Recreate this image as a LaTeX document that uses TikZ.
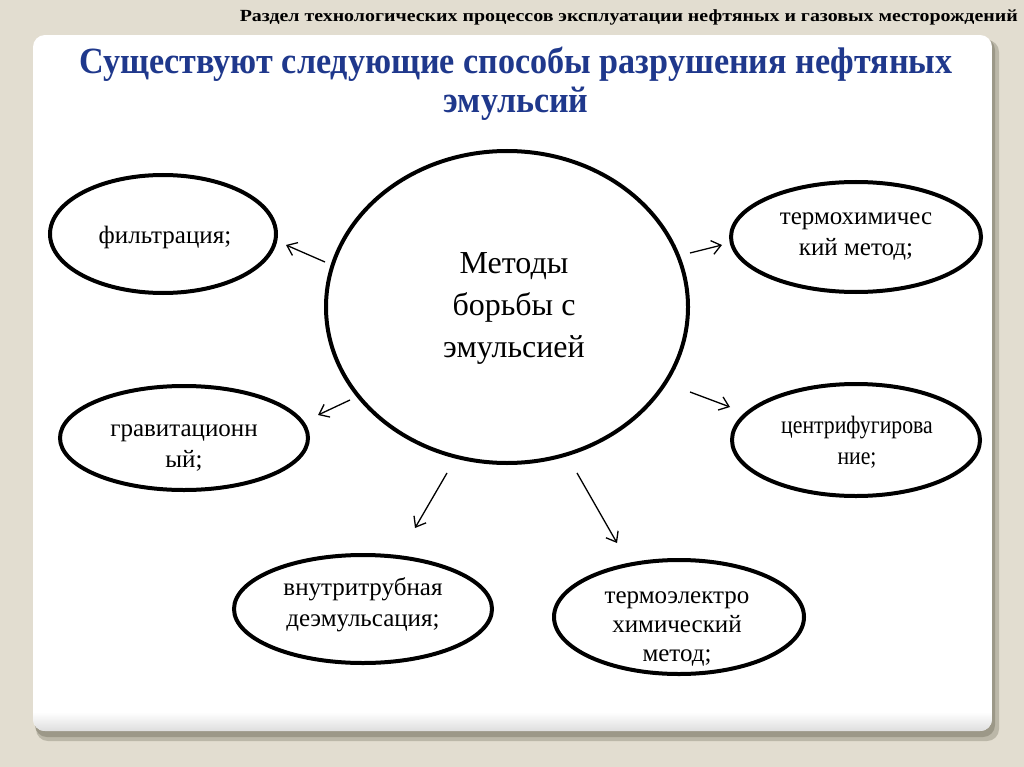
\documentclass[tikz,border=0pt]{standalone}
\usepackage{fontspec}
\usepackage{graphicx}
\setmainfont{Liberation Serif}
\usetikzlibrary{shapes.geometric,arrows.meta}
\definecolor{bg}{HTML}{E2DDD0}
\definecolor{shadowc}{HTML}{9C9888}
\definecolor{titleblue}{HTML}{1F388C}
\begin{document}
\begin{tikzpicture}[x=1pt,y=-1pt,
  ell/.style={ellipse, draw=black, line width=4pt, fill=white, inner sep=0pt},
  txt/.style={align=center, font=\rmfamily\fontsize{25}{31}\selectfont, inner sep=0pt},
  ttl/.style={inner sep=0pt, anchor=base, text=titleblue, font=\rmfamily\bfseries\fontsize{37}{44}\selectfont},
  arr/.style={-{Straight Barb[length=9pt,width=14pt]}, line width=1.3pt}]
\useasboundingbox (0,0) rectangle (1024,767);
\fill[bg] (0,0) rectangle (1024,767);
% card shadow and card
\fill[shadowc!55!bg, rounded corners=12] (36,40) rectangle (999,741);
\fill[shadowc, rounded corners=12] (35,38) rectangle (995,737);
\begin{scope}
  \clip[rounded corners=12] (33,35) rectangle (992,731);
  \fill[white] (33,35) rectangle (992,731);
  \shade[top color=white, bottom color=black!13] (33,712) rectangle (992,731);
\end{scope}
% header
\node[anchor=base east, inner sep=0pt, font=\rmfamily\bfseries\fontsize{17}{20}\selectfont] (hdr) at (1018,22)
  {\resizebox{778pt}{\height}{Раздел технологических процессов эксплуатации нефтяных и газовых месторождений}};
% title
\node[ttl] (title1) at (516,74)
  {\resizebox{873pt}{\height}{Существуют следующие способы разрушения нефтяных}};
\node[ttl] (title2) at (516,113)
  {\resizebox{145pt}{\height}{эмульсий}};
% central circle
\node[ell, minimum width=362pt, minimum height=312pt] (c) at (507,307) {};
\node[txt, font=\rmfamily\fontsize{32}{42}\selectfont] (ct) at (514,308) {Методы\\борьбы с\\эмульсией};
% outer ellipses
\node[ell, minimum width=226pt, minimum height=118pt] (e1) at (163,234) {};
\node[txt] (t1) at (165,237) {фильтрация;};
\node[ell, minimum width=250pt, minimum height=110pt] (e2) at (856,237) {};
\node[txt] (t2) at (856,237) {термохимичес\\кий метод;};
\node[ell, minimum width=248pt, minimum height=104pt] (e3) at (184,438) {};
\node[txt] (t3) at (184,448) {гравитационн\\ый;};
\node[ell, minimum width=248pt, minimum height=112pt] (e4) at (856,440) {};
\node[txt] (t4) at (857,442) {\scalebox{0.87}[1]{центрифугирова}\\\scalebox{0.87}[1]{ние;}};
\node[ell, minimum width=258pt, minimum height=108pt] (e5) at (363,609) {};
\node[txt] (t5) at (363,605) {внутритрубная\\деэмульсация;};
\node[ell, minimum width=250pt, minimum height=114pt] (e6) at (679,617) {};
\node[txt, font=\rmfamily\fontsize{25}{29}\selectfont] (t6) at (677,629) {термоэлектро\\химический\\метод;};
% arrow ends
\coordinate (a1s) at (325,262); \coordinate (a1e) at (286,245);
\coordinate (a2s) at (350,400); \coordinate (a2e) at (318,415);
\coordinate (a3s) at (690,253); \coordinate (a3e) at (722,245);
\coordinate (a4s) at (690,392); \coordinate (a4e) at (730,407);
\coordinate (a5s) at (447,473); \coordinate (a5e) at (415,528);
\coordinate (a6s) at (577,473); \coordinate (a6e) at (617,543);
\draw[arr] (a1s) -- (a1e);
\draw[arr] (a2s) -- (a2e);
\draw[arr] (a3s) -- (a3e);
\draw[arr] (a4s) -- (a4e);
\draw[arr] (a5s) -- (a5e);
\draw[arr] (a6s) -- (a6e);
\end{tikzpicture}
\end{document}
